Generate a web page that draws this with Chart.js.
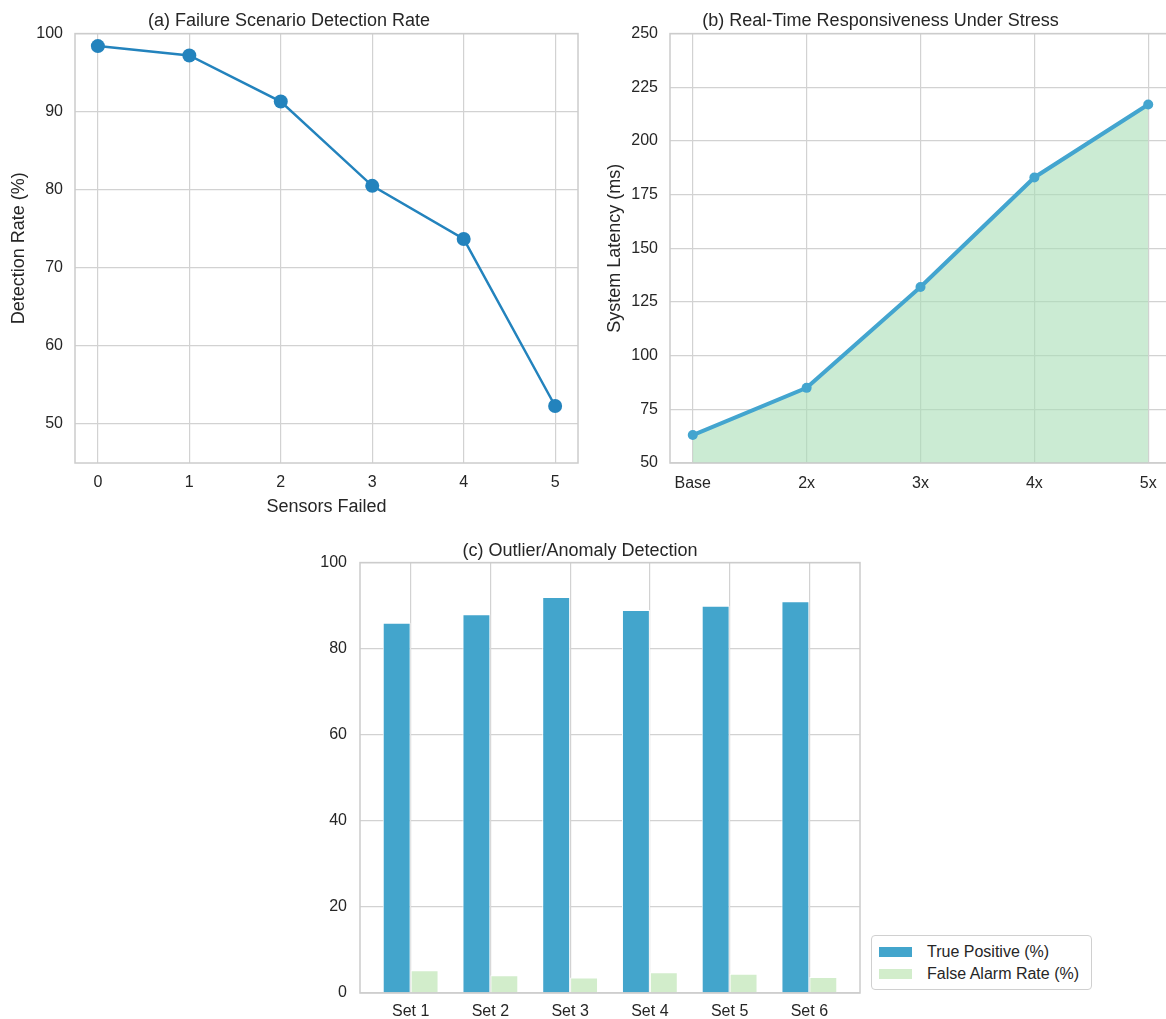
<!DOCTYPE html>
<html>
<head>
<meta charset="utf-8">
<script src="https://cdn.jsdelivr.net/npm/chart.js@4.4.1/dist/chart.umd.min.js"></script>
<style>
  html, body { margin: 0; padding: 0; background: #fff; overflow: hidden; }
  body { width: 1166px; height: 1019px; position: relative; font-family: "Liberation Sans", Arial, sans-serif; }
  canvas { position: absolute; }
  #legend {
    position: absolute; left: 871px; top: 935px; width: 219px; height: 53px;
    border: 1px solid #d0d0d0; border-radius: 4px; background: #fff;
    font-size: 16px; color: #262626;
  }
  .item { position: absolute; left: 7px; height: 20px; line-height: 20px; white-space: nowrap; }
  .swatch { position: absolute; left: 0; top: 5px; width: 33px; height: 10px; }
  .label { position: absolute; left: 48px; top: 0; }
</style>
</head>
<body>
<canvas id="chartA" width="653" height="520" style="left:0;top:0"></canvas>
<canvas id="chartB" width="661" height="520" style="left:590px;top:0"></canvas>
<canvas id="chartC" width="620" height="489" style="left:300px;top:530px"></canvas>
<div id="legend"></div>
<script>
// (a) failure scenario detection
const sensorsFailed = [0, 1, 2, 3, 4, 5];
const detectionRate = [98.4, 97.2, 91.3, 80.5, 73.7, 52.3];

// (b) responsiveness under stress
const stressLevels = ['Base', '2x', '3x', '4x', '5x'];
const latencyMs = [63, 85, 132, 183, 217];

// (c) outlier / anomaly detection
const setLabels = ['Set 1', 'Set 2', 'Set 3', 'Set 4', 'Set 5', 'Set 6'];
const truePositive = [86, 88, 92, 89, 90, 91];
const falseAlarm = [5.3, 4.1, 3.6, 4.8, 4.5, 3.7];

const FONT = '"Liberation Sans", Arial, sans-serif';
const TEXT = '#262626';
const GRID = '#d2d2d2';

Chart.defaults.font.family = FONT;
Chart.defaults.color = TEXT;
Chart.defaults.animation = false;

// seaborn-style box around the plot area
const frame = {
  id: 'frame',
  afterDatasetsDraw(chart) {
    const a = chart.chartArea;
    const ctx = chart.ctx;
    ctx.save();
    ctx.strokeStyle = '#cccccc';
    ctx.lineWidth = 1.5;
    ctx.strokeRect(a.left, a.top, a.right - a.left, a.bottom - a.top);
    ctx.restore();
  }
};

function titleOpts(text, top, bottom) {
  return { display: true, text: text, color: TEXT,
    font: { size: 18, weight: 'normal' }, padding: { top: top, bottom: bottom } };
}

function axisTitle(text, pad) {
  return { display: true, text: text, color: TEXT, font: { size: 18 }, padding: pad };
}

const gridOpts = { color: GRID, lineWidth: 1.2, drawTicks: false };

new Chart(document.getElementById('chartA'), {
  type: 'line',
  data: {
    datasets: [{
      data: sensorsFailed.map((x, i) => ({ x: x, y: detectionRate[i] })),
      borderColor: '#2383bd',
      backgroundColor: '#2383bd',
      borderWidth: 2.5,
      pointRadius: 7,
      pointBorderWidth: 0,
      tension: 0
    }]
  },
  options: {
    responsive: false,
    layout: { padding: { left: 0, right: 75, top: 0, bottom: 0 } },
    plugins: {
      legend: { display: false },
      tooltip: { enabled: false },
      title: titleOpts('(a) Failure Scenario Detection Rate', 10, 2)
    },
    scales: {
      x: {
        type: 'linear', min: -0.25, max: 5.25,
        grid: gridOpts, border: { display: false },
        ticks: { stepSize: 1, includeBounds: false, padding: 10, font: { size: 16 }, color: TEXT },
        title: axisTitle('Sensors Failed', { top: 0, bottom: 2 }),
        afterFit(s) { s.height = 57; }
      },
      y: {
        min: 45, max: 100,
        grid: gridOpts, border: { display: false },
        ticks: { stepSize: 10, includeBounds: false, padding: 12, font: { size: 16 }, color: TEXT },
        title: axisTitle('Detection Rate (%)', { top: 8, bottom: 0 }),
        afterFit(s) { s.width = 75; }
      }
    }
  },
  plugins: [frame]
});

new Chart(document.getElementById('chartB'), {
  type: 'line',
  data: {
    datasets: [{
      data: latencyMs.map((v, i) => ({ x: i, y: v })),
      borderColor: '#43a5cf',
      backgroundColor: 'rgba(168, 221, 181, 0.6)',
      pointBackgroundColor: '#43a5cf',
      borderWidth: 4,
      pointRadius: 5,
      pointBorderWidth: 0,
      fill: 'start',
      tension: 0
    }]
  },
  options: {
    responsive: false,
    layout: { padding: { left: 0, right: 80, top: 0, bottom: 0 } },
    plugins: {
      legend: { display: false },
      tooltip: { enabled: false },
      title: titleOpts('(b) Real-Time Responsiveness Under Stress', 10, 2)
    },
    scales: {
      x: {
        type: 'linear', min: -0.2, max: 4.2,
        grid: gridOpts, border: { display: false },
        ticks: {
          stepSize: 1, includeBounds: false, padding: 11, font: { size: 16 }, color: TEXT,
          callback: v => stressLevels[v]
        },
        afterFit(s) { s.height = 57; }
      },
      y: {
        min: 50, max: 250,
        grid: gridOpts, border: { display: false },
        ticks: { stepSize: 25, padding: 12, font: { size: 16 }, color: TEXT },
        title: axisTitle('System Latency (ms)', { top: 14, bottom: 0 }),
        afterFit(s) { s.width = 80; }
      }
    }
  },
  plugins: [frame]
});

const barSeries = [
  { label: 'True Positive (%)', values: truePositive, color: '#43a5cc' },
  { label: 'False Alarm Rate (%)', values: falseAlarm, color: '#d2edcb' }
];

new Chart(document.getElementById('chartC'), {
  type: 'bar',
  data: {
    datasets: barSeries.map(s => ({
      label: s.label,
      data: s.values.map((v, i) => ({ x: i, y: v })),
      backgroundColor: s.color,
      borderColor: '#ffffff',
      borderWidth: 1,
      categoryPercentage: 0.7,
      barPercentage: 1.0
    }))
  },
  options: {
    responsive: false,
    layout: { padding: { left: 0, right: 60, top: 0, bottom: 0 } },
    plugins: {
      legend: { display: false },
      tooltip: { enabled: false },
      title: titleOpts('(c) Outlier/Anomaly Detection', 10, 1)
    },
    scales: {
      x: {
        type: 'linear', min: -0.635, max: 5.635, offset: false,
        grid: Object.assign({}, gridOpts, { offset: false }), border: { display: false },
        ticks: {
          stepSize: 1, includeBounds: false, padding: 9, font: { size: 16 }, color: TEXT,
          callback: v => setLabels[v]
        },
        afterFit(s) { s.height = 26; }
      },
      y: {
        min: 0, max: 100,
        grid: gridOpts, border: { display: false },
        ticks: { stepSize: 20, padding: 13, font: { size: 16 }, color: TEXT },
        afterFit(s) { s.width = 60; }
      }
    }
  },
  plugins: [frame]
});

// legend box outside the bar plot
const legend = document.getElementById('legend');
barSeries.forEach((s, i) => {
  const item = document.createElement('div');
  item.className = 'item';
  item.style.top = (6 + i * 22) + 'px';
  item.innerHTML = '<span class="swatch" style="background:' + s.color + '"></span>' +
    '<span class="label">' + s.label + '</span>';
  legend.appendChild(item);
});
</script>
</body>
</html>
